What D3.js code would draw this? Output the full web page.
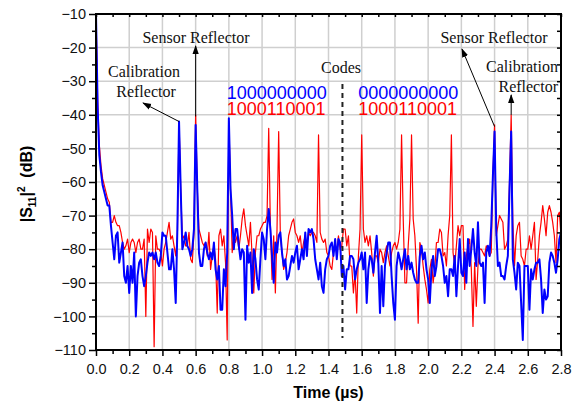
<!DOCTYPE html>
<html>
<head>
<meta charset="utf-8">
<script src="https://cdn.jsdelivr.net/npm/d3@7"></script>
<style>
  body { margin: 0; background: #fff; }
  svg { display: block; }
</style>
</head>
<body>
<div id="chart"></div>
<script>
// sampling of the time axis (us)
let t0 = 0, dt = 0.01

// |S11|^2 in dB, code 1000000000 / 0000000000 (blue)
let blueDb = [
  -10,-38,-52,-57,-61,-63,-65,-67,-67,-73, -78,-83,-76,-75,-84,-81,-78,-88,-90,-85,
  -93,-85,-90,-81,-100,-88,-84,-83,-88,-91, -88,-84,-81,-82,-81,-83,-81,-84,-85,-82,
  -75,-76,-76,-81,-86,-86,-80,-86,-96,-74, -42,-62,-80,-78,-75,-79,-80,-82,-80,-74,
  -43,-62,-81,-85,-85,-80,-78,-81,-83,-81, -83,-78,-86,-89,-85,-98,-98,-86,-91,-81,
  -41,-62,-70,-80,-74,-74,-79,-83,-80,-81, -101,-79,-84,-81,-93,-80,-83,-89,-92,-83,
  -75,-77,-83,-74,-68,-74,-82,-90,-78,-81, -76,-75,-81,-85,-83,-89,-88,-85,-82,-84,
  -81,-79,-86,-83,-80,-83,-75,-82,-74,-75, -74,-77,-83,-86,-89,-84,-91,-93,-86,-83,
  -82,-79,-78,-82,-77,-83,-77,-78,-88,-85, -92,-86,-86,-82,-82,-83,-89,-86,-84,-83,
  -81,-86,-81,-96,-86,-82,-83,-87,-81,-76, -84,-99,-85,-97,-85,-81,-78,-78,-88,-96,
  -101,-85,-81,-83,-86,-83,-80,-86,-82,-86, -84,-87,-89,-90,-90,-82,-79,-83,-81,-86,
  -89,-96,-86,-82,-88,-85,-80,-80,-82,-85, -90,-88,-94,-86,-86,-88,-82,-94,-85,-77,
  -87,-88,-81,-90,-77,-85,-80,-74,-81,-85, -72,-84,-85,-84,-96,-81,-79,-82,-73,-58,
  -45,-74,-85,-84,-88,-88,-89,-85,-82,-62, -45,-83,-87,-92,-84,-85,-96,-107,-85,-85,
  -85,-98,-86,-89,-86,-84,-84,-83,-89,-99, -92,-95,-94,-84,-81,-82,-84,-87,-83,-77,
  -75
]

// code 1000110001 (red)
let redDb = [
  -10,-36,-49,-55,-59,-61,-63,-65,-66,-72, -72,-70,-72,-73,-73,-75,-78,-80,-79,-77,
  -81,-78,-77,-78,-81,-78,-77,-80,-80,-77, -100,-74,-78,-74,-75,-109,-76,-80,-80,-81,
  -85,-80,-78,-75,-72,-77,-76,-79,-82,-76, -42,-62,-77,-76,-79,-79,-75,-83,-84,-75,
  -40,-62,-74,-76,-78,-79,-78,-82,-75,-86, -82,-79,-83,-99,-76,-74,-79,-76,-84,-107,
  -42,-62,-81,-76,-78,-76,-80,-76,-71,-68, -73,-76,-79,-72,-82,-93,-81,-76,-76,-74,
  -73,-72,-72,-70,-44,-73,-89,-76,-93,-74, -45,-76,-81,-86,-84,-81,-76,-74,-72,-71,
  -75,-76,-78,-76,-81,-78,-76,-79,-75,-76, -75,-75,-76,-78,-46,-75,-77,-78,-77,-81,
  -82,-85,-86,-81,-79,-80,-76,-80,-79,-74, -74,-79,-76,-85,-85,-93,-87,-99,-82,-74,
  -46,-74,-78,-76,-79,-76,-81,-88,-82,-82, -84,-80,-81,-84,-81,-79,-82,-85,-81,-79,
  -78,-80,-78,-74,-46,-71,-90,-90,-79,-71, -46,-71,-76,-86,-102,-78,-80,-85,-89,-92,
  -96,-86,-83,-90,-86,-78,-78,-74,-75,-82, -81,-85,-76,-70,-46,-81,-85,-79,-73,-76,
  -73,-73,-92,-82,-79,-77,-86,-103,-84,-97, -85,-80,-80,-81,-82,-79,-80,-82,-81,-58,
  -43,-76,-73,-70,-71,-72,-80,-79,-77,-60, -40,-72,-85,-76,-73,-72,-82,-83,-85,-80,
  -80,-76,-80,-76,-72,-89,-83,-76,-72,-67, -71,-76,-69,-67,-69,-72,-76,-84,-70,-69,
  -76
]

let xTicks = [0, 0.2, 0.4, 0.6, 0.8, 1.0, 1.2, 1.4, 1.6, 1.8, 2.0, 2.2, 2.4, 2.6, 2.8]
let yTicks = [-110, -100, -90, -80, -70, -60, -50, -40, -30, -20, -10]
let codeLabels = [
  { t: 0.787, y: -35.4, text: "1000000000", color: "#0000ff" },
  { t: 0.787, y: -40.1, text: "1000110001", color: "#ff0000" },
  { t: 1.579, y: -35.4, text: "0000000000", color: "#0000ff" },
  { t: 1.579, y: -40.1, text: "1000110001", color: "#ff0000" }
]

let width = 576, height = 405
let margin = { top: 14, right: 15, bottom: 55, left: 96 }

let svg = d3.select("#chart").append("svg")
  .attr("width", width)
  .attr("height", height)

let x = d3.scaleLinear().domain([0, 2.8]).range([margin.left, width - margin.right])
let y = d3.scaleLinear().domain([-110, -10]).range([height - margin.bottom, margin.top])

let sans = "'Liberation Sans', Arial, sans-serif"
let serif = "'Liberation Serif', 'Times New Roman', serif"

let minorX = d3.range(1, 28, 2).map(i => i / 10)
let minorY = d3.range(-105, -10, 10)

// grid
svg.append("g")
  .selectAll("line.gx")
  .data(xTicks.slice(1, -1))
  .enter().append("line")
  .attr("x1", d => x(d)).attr("x2", d => x(d))
  .attr("y1", y(-10)).attr("y2", y(-110))
  .attr("stroke", "#cfcfcf").attr("stroke-width", 1.5)

svg.append("g")
  .selectAll("line.gy")
  .data(yTicks.slice(1, -1))
  .enter().append("line")
  .attr("x1", x(0)).attr("x2", x(2.8))
  .attr("y1", d => y(d)).attr("y2", d => y(d))
  .attr("stroke", "#cfcfcf").attr("stroke-width", 1.5)

// series
svg.append("defs").append("clipPath").attr("id", "plotclip")
  .append("rect")
  .attr("x", x(0)).attr("y", y(-10) - 1)
  .attr("width", x(2.8) - x(0)).attr("height", y(-110) - y(-10) + 1)

let line = d3.line()
  .x((d, i) => x(t0 + i * dt))
  .y(d => y(d))

let plot = svg.append("g").attr("clip-path", "url(#plotclip)")

plot.append("path")
  .datum(redDb)
  .attr("d", line)
  .attr("fill", "none")
  .attr("stroke", "#ff0000")
  .attr("stroke-width", 1.2)
  .attr("stroke-linejoin", "round")

plot.append("path")
  .datum(blueDb)
  .attr("d", line)
  .attr("fill", "none")
  .attr("stroke", "#0000ff")
  .attr("stroke-width", 2)
  .attr("stroke-linejoin", "round")

// axes
function styleAxis(g) {
  g.select(".domain").remove()
  g.selectAll(".tick line").attr("stroke", "#000").attr("stroke-width", 1.5)
  g.selectAll(".tick text").attr("fill", "#111")
    .style("font-family", sans).style("font-size", "14.5px")
}

svg.append("g")
  .attr("transform", "translate(0," + y(-110) + ")")
  .call(d3.axisBottom(x).tickValues(xTicks).tickFormat(d3.format(".1f")).tickSize(6).tickPadding(8))
  .call(styleAxis)

svg.append("g")
  .attr("transform", "translate(0," + y(-110) + ")")
  .call(d3.axisBottom(x).tickValues(minorX).tickFormat("").tickSize(4))
  .call(styleAxis)

svg.append("g")
  .attr("transform", "translate(" + x(0) + ",0)")
  .call(d3.axisLeft(y).tickValues(yTicks).tickSize(7).tickPadding(3))
  .call(styleAxis)

svg.append("g")
  .attr("transform", "translate(" + x(0) + ",0)")
  .call(d3.axisLeft(y).tickValues(minorY).tickFormat("").tickSize(4))
  .call(styleAxis)

// top and right ticks point inward
svg.append("g")
  .attr("transform", "translate(0," + y(-10) + ")")
  .call(d3.axisBottom(x).tickValues(xTicks.concat(minorX)).tickFormat("").tickSize(3))
  .call(styleAxis)

svg.append("g")
  .attr("transform", "translate(" + x(2.8) + ",0)")
  .call(d3.axisLeft(y).tickValues(yTicks.concat(minorY)).tickFormat("").tickSize(4))
  .call(styleAxis)

// frame
svg.append("rect")
  .attr("x", x(0)).attr("y", y(-10))
  .attr("width", x(2.8) - x(0)).attr("height", y(-110) - y(-10))
  .attr("fill", "none").attr("stroke", "#000").attr("stroke-width", 2)

// axis titles
svg.append("text")
  .attr("x", (x(0) + x(2.8)) / 2).attr("y", 398)
  .attr("text-anchor", "middle")
  .style("font-family", sans).style("font-size", "16px").style("font-weight", "bold")
  .text("Time (\u00b5s)")

let ylab = svg.append("text")
  .attr("transform", "translate(32," + ((y(-10) + y(-110)) / 2 + 2) + ") rotate(-90)")
  .attr("text-anchor", "middle")
  .style("font-family", sans).style("font-size", "16px").style("font-weight", "bold")
ylab.append("tspan").text("|S")
ylab.append("tspan").attr("dy", 4).style("font-size", "10px").text("11")
ylab.append("tspan").attr("dy", -4).text("|")
ylab.append("tspan").attr("dy", -7).style("font-size", "10px").text("2")
ylab.append("tspan").attr("dy", 7).text("\u00a0 (dB)")

// arrow marker
svg.select("defs").append("marker")
  .attr("id", "arrow")
  .attr("viewBox", "0 0 10 10")
  .attr("refX", 9).attr("refY", 5)
  .attr("markerWidth", 9).attr("markerHeight", 9)
  .attr("markerUnits", "userSpaceOnUse")
  .attr("orient", "auto")
  .append("path")
  .attr("d", "M0,1.5 L10,5 L0,8.5 Z")
  .attr("fill", "#000")

// annotations: [from t, from dB, to x px, to y px]
let arrows = [
  { t: 0.5, v: -42, tx: 143, ty: 103 },
  { t: 0.6, v: -40.5, tx: x(0.6), ty: 46 },
  { t: 2.4, v: -43.5, tx: 462, ty: 49 },
  { t: 2.5, v: -40, tx: x(2.5), ty: 95 }
]
svg.append("g").selectAll("line")
  .data(arrows)
  .enter().append("line")
  .attr("x1", d => x(d.t)).attr("y1", d => y(d.v))
  .attr("x2", d => d.tx).attr("y2", d => d.ty)
  .attr("stroke", "#000").attr("stroke-width", 1)
  .attr("marker-end", "url(#arrow)")

let notes = [
  { x: 144, y: 77, text: "Calibration", anchor: "middle" },
  { x: 146, y: 97, text: "Reflector", anchor: "middle" },
  { x: 196, y: 43, text: "Sensor Reflector", anchor: "middle" },
  { x: 341, y: 73, text: "Codes", anchor: "middle" },
  { x: 494, y: 43, text: "Sensor Reflector", anchor: "middle" },
  { x: 558, y: 72, text: "Calibration", anchor: "end" },
  { x: 558, y: 92, text: "Reflector", anchor: "end" }
]
svg.append("g").selectAll("text")
  .data(notes)
  .enter().append("text")
  .attr("x", d => d.x).attr("y", d => d.y)
  .attr("text-anchor", d => d.anchor)
  .style("font-family", serif).style("font-size", "16px")
  .attr("fill", "#111")
  .text(d => d.text)

svg.append("g").selectAll("text")
  .data(codeLabels)
  .enter().append("text")
  .attr("x", d => x(d.t)).attr("y", d => y(d.y))
  .style("font-family", sans).style("font-size", "18px")
  .attr("fill", d => d.color)
  .text(d => d.text)

// separator between the two code groups
svg.append("line")
  .attr("x1", x(1.484)).attr("x2", x(1.484))
  .attr("y1", 84).attr("y2", 338)
  .attr("stroke", "#222").attr("stroke-width", 2)
  .attr("stroke-dasharray", "5,4")
</script>
</body>
</html>
